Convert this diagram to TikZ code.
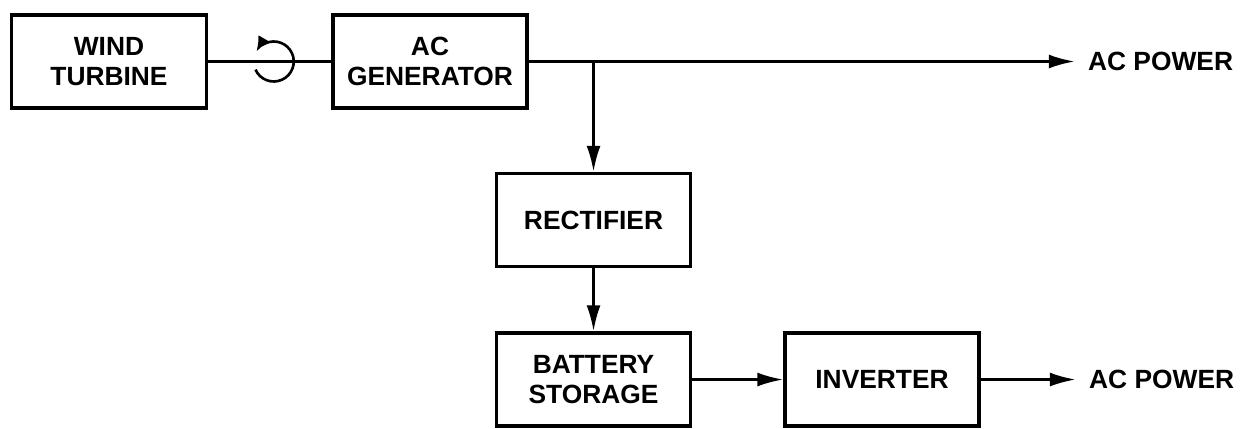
\documentclass[tikz,border=0pt]{standalone}
\usepackage{fontspec}
\setmainfont{Liberation Sans}
\usepackage{tikz}
\usetikzlibrary{positioning,arrows.meta}

\begin{document}
\begin{tikzpicture}[
    block/.style={rectangle, draw=black, line width=2pt, minimum width=3.88cm, minimum height=1.86cm, inner sep=0pt, align=center, font=\bfseries\fontsize{15}{17}\selectfont},
    powlabel/.style={inner xsep=0.26cm, inner ysep=0pt, font=\bfseries\fontsize{15}{17}\selectfont},
    shaft/.style={line width=1.5pt},
    arrow/.style={-{Latex[length=0.52cm, width=0.28cm]}, line width=1.5pt}
]
\useasboundingbox (0,0) rectangle (24.9,-8.58);

% Main modules
\node[block, minimum width=3.9cm] (wind) at (2.18,-1.23) {WIND\\TURBINE};
\node[block, right=2.46cm of wind] (gen) {AC\\GENERATOR};
\node[block, below right=1.24cm and -0.68cm of gen] (rect) {RECTIFIER};
\node[block, below=1.26cm of rect] (batt) {BATTERY\\STORAGE};
\node[block, right=1.82cm of batt] (inv) {INVERTER};

% Outputs
\node[powlabel, right=10.92cm of gen] (pow1) {AC POWER};
\node[powlabel, right=1.9cm of inv] (pow2) {AC POWER};

% Shaft with rotation sign
\coordinate[right=1.31cm of wind] (rot);
\draw[shaft] (wind) -- (gen);
\draw[shaft, -{Latex[length=0.3cm, width=0.26cm]}] ([shift={(204:0.4cm)}]rot) arc[start angle=204, end angle=510, radius=0.4cm];

% Power flow
\coordinate (split) at (gen.east -| rect.north);
\draw[arrow] (gen) -- (pow1);
\draw[arrow] (split) -- (rect);
\draw[arrow] (rect) -- (batt);
\draw[arrow] (batt) -- (inv);
\draw[arrow] (inv) -- (pow2);

\end{tikzpicture}
\end{document}
